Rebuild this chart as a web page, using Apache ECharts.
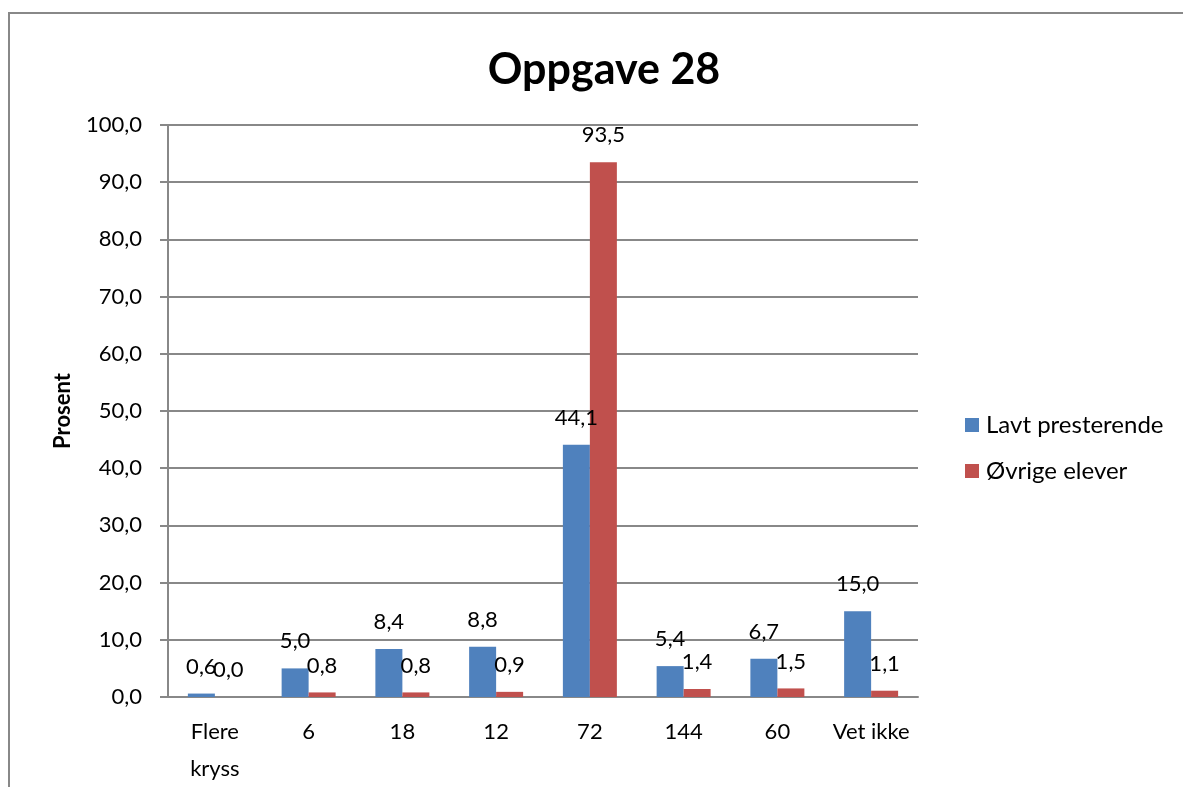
<!DOCTYPE html>
<html>
<head>
<meta charset="utf-8">
<script src="https://cdn.jsdelivr.net/npm/echarts@6/dist/echarts.min.js"></script>
<style>
  html, body { margin: 0; padding: 0; background: #fff; }
  #frame { position: absolute; left: 8px; top: 12px; width: 1200px; height: 800px; border: 2px solid #888; box-sizing: border-box; }
  #chart { position: absolute; left: 0; top: 0; width: 1183px; height: 787px; }
</style>
</head>
<body>
<div id="frame"></div>
<div id="chart"></div>
<script>
const categories = ['Flere\nkryss', '6', '18', '12', '72', '144', '60', 'Vet ikke'];
const lavtPresterende = [0.6, 5.0, 8.4, 8.8, 44.1, 5.4, 6.7, 15.0];
const ovrigeElever = [0.0, 0.8, 0.8, 0.9, 93.5, 1.4, 1.5, 1.1];
const seriesNames = ['Lavt presterende', 'Øvrige elever'];
const titleText = 'Oppgave 28';
const yAxisName = 'Prosent';

const FONT = 'Lato, "Open Sans", sans-serif';
const fmt = v => v.toFixed(1).replace('.', ',');

const chart = echarts.init(document.getElementById('chart'), null, { renderer: 'canvas' });
const labelCfg = {
  show: true,
  position: 'top',
  distance: 16,
  color: '#000',
  fontSize: 22,
  fontFamily: FONT,
  formatter: p => fmt(p.value)
};
chart.setOption({
  animation: false,
  backgroundColor: 'transparent',
  title: {
    text: titleText,
    left: 599,
    top: 44,
    textAlign: 'center',
    textStyle: { fontSize: 43, fontWeight: 'bold', fontFamily: FONT, color: '#000' }
  },
  legend: {
    orient: 'vertical',
    left: 960,
    top: 408,
    itemWidth: 14,
    itemHeight: 14,
    itemGap: 22,
    icon: 'rect',
    textStyle: { fontSize: 24, fontFamily: FONT, color: '#000', padding: [0, 0, 0, 2] },
    data: seriesNames
  },
  grid: { left: 168, right: 1183 - 918, top: 125, bottom: 787 - 697, containLabel: false },
  xAxis: {
    type: 'category',
    data: categories,
    axisLine: { show: true, lineStyle: { color: '#888', width: 2 } },
    axisTick: { show: false },
    axisLabel: { color: '#000', fontSize: 22, fontFamily: FONT, margin: 16, lineHeight: 37, interval: 0 }
  },
  yAxis: {
    type: 'value',
    min: 0,
    max: 100,
    interval: 10,
    name: yAxisName,
    nameLocation: 'middle',
    nameRotate: 90,
    nameGap: 94,
    nameTextStyle: { fontSize: 22, fontWeight: 'bold', fontFamily: FONT, color: '#000' },
    axisLine: { show: true, lineStyle: { color: '#888', width: 2 } },
    axisTick: { show: true, inside: false, length: 8, lineStyle: { color: '#888', width: 2 } },
    splitLine: { show: true, lineStyle: { color: '#888', width: 2 } },
    axisLabel: { color: '#000', fontSize: 22, fontFamily: FONT, margin: 26, formatter: v => fmt(v) }
  },
  series: [
    {
      name: seriesNames[0],
      type: 'bar',
      data: lavtPresterende,
      barWidth: 27,
      barGap: '0%',
      itemStyle: { color: '#4F81BD' },
      label: labelCfg
    },
    {
      name: seriesNames[1],
      type: 'bar',
      data: ovrigeElever,
      barWidth: 27,
      barGap: '0%',
      itemStyle: { color: '#C0504D' },
      label: labelCfg
    }
  ]
});
</script>
</body>
</html>
